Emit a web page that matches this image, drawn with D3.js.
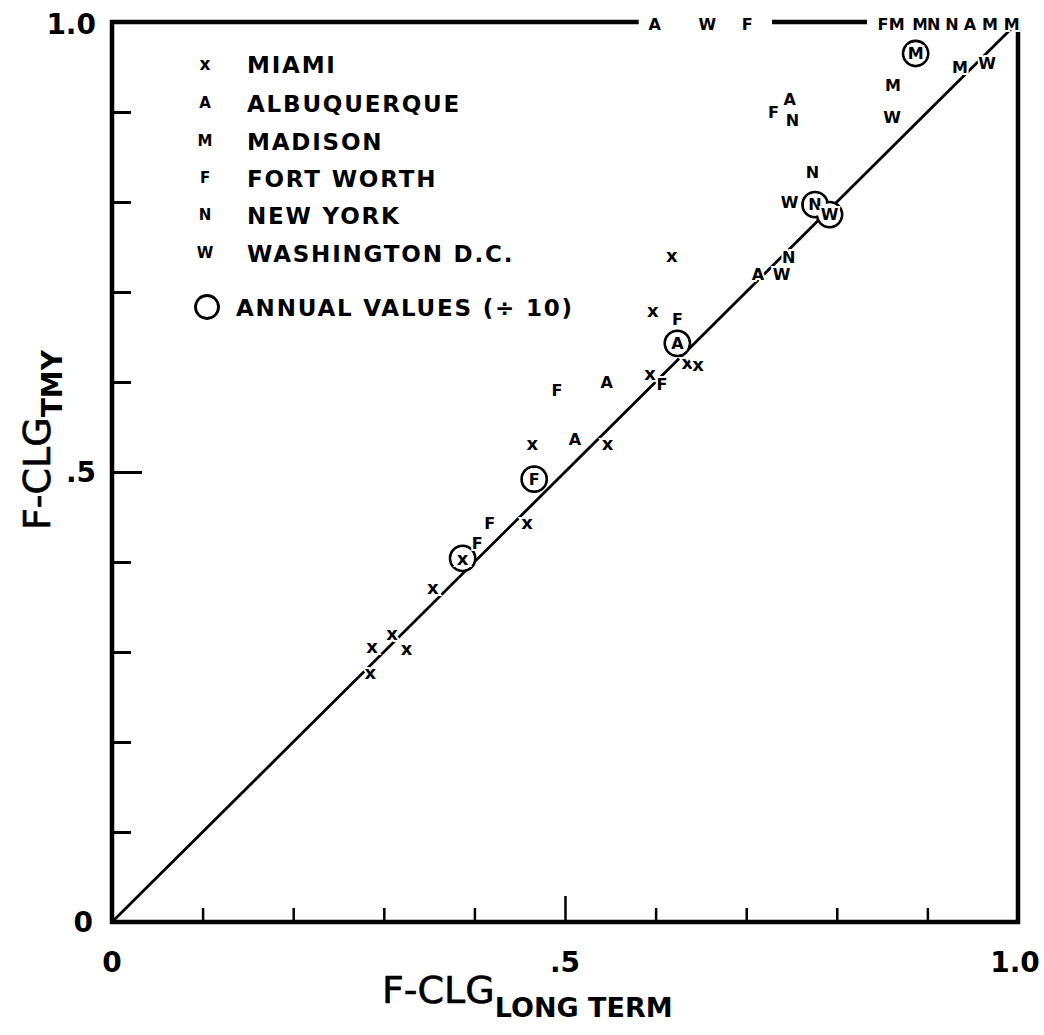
<!DOCTYPE html>
<meta charset="utf-8">
<style>
    body { margin: 0; background: #fff; }
    text { font-family: "DejaVu Sans", sans-serif; }
    .lbl { font-weight: bold; }
</style>
<body>
<svg id="chart"></svg>
<script src="https://cdn.jsdelivr.net/npm/d3@7"></script>
<script>
    // legend
    var cities = ["MIAMI", "ALBUQUERQUE", "MADISON", "FORT WORTH", "NEW YORK", "WASHINGTON  D.C."]
    var symbols = ["x", "A", "M", "F", "N", "W"]

    // monthly values [long term, tmy], one list per city
    var miami = [[0.285, 0.277], [0.287, 0.306], [0.309, 0.321], [0.325, 0.304], [0.354, 0.372],
                 [0.458, 0.444], [0.464, 0.532], [0.547, 0.532], [0.594, 0.610], [0.597, 0.680],
                 [0.618, 0.741], [0.635, 0.622], [0.647, 0.620]]
    var albuquerque = [[0.511, 0.536], [0.546, 0.599], [0.713, 0.719], [0.748, 0.914]]
    var madison = [[0.862, 0.930], [0.936, 0.950]]
    var fortWorth = [[0.403, 0.421], [0.417, 0.443], [0.491, 0.591], [0.607, 0.597],
                     [0.624, 0.669], [0.730, 0.900]]
    var newYork = [[0.747, 0.738], [0.751, 0.891], [0.773, 0.833]]
    var washington = [[0.739, 0.720], [0.748, 0.800], [0.861, 0.894], [0.966, 0.954]]

    // annual values (divided by 10)
    var annualSym = ["x", "F", "A", "N", "W", "M"]
    var annualX = [0.387, 0.466, 0.624, 0.776, 0.792, 0.887]
    var annualY = [0.404, 0.492, 0.643, 0.797, 0.786, 0.965]

    // values above 1.0, printed on the top border
    var offSym = ["A", "W", "F", "F", "M", "M", "N", "N", "A", "M", "M"]
    var offX = [0.599, 0.657, 0.701, 0.851, 0.866, 0.892, 0.907, 0.927, 0.947, 0.969, 0.993]

    var xTicks = [0, 0.5, 1], xTickLabels = ["0", ".5", "1.0"]
    var yTicks = [0, 0.5, 1], yTickLabels = ["0", ".5", "1.0"]

    var width = 1044, height = 1035

    var svg = d3.select("#chart")
        .attr("width", width)
        .attr("height", height)

    var x = d3.scaleLinear().domain([0, 1]).range([112, 1018])
    var y = d3.scaleLinear().domain([0, 1]).range([922, 22])

    var minor = d3.range(1, 10).map(function(i) { return i / 10 })

    // ticks (inward)
    svg.append("g")
        .attr("transform", "translate(0," + y(0) + ")")
        .call(d3.axisBottom(x).tickValues(minor).tickSize(0).tickFormat(""))
        .call(function(g) { g.select(".domain").remove() })
        .selectAll(".tick line")
        .attr("y2", function(d) { return d === 0.5 ? -26 : -14 })
        .attr("stroke", "#000").attr("stroke-width", 2.5)

    svg.append("g")
        .attr("transform", "translate(" + x(0) + ",0)")
        .call(d3.axisLeft(y).tickValues(minor).tickSize(0).tickFormat(""))
        .call(function(g) { g.select(".domain").remove() })
        .selectAll(".tick line")
        .attr("x2", function(d) { return d === 0.5 ? 30 : 19 })
        .attr("stroke", "#000").attr("stroke-width", 3)

    // frame
    svg.append("path")
        .attr("d", "M" + x(0) + "," + y(1) + "L" + x(0) + "," + y(0) + "L" + x(1) + "," + y(0) +
                   "L" + x(1) + "," + y(1) + "Z")
        .attr("fill", "none").attr("stroke", "#000").attr("stroke-width", 4.5)
        .attr("stroke-linejoin", "miter")

    // gaps in the top border where the off-scale letters sit
    var px = offX.map(x).sort(d3.ascending)
    var clusters = []
    px.forEach(function(p) {
        var c = clusters[clusters.length - 1]
        if (c && p - c[1] < 70) c[1] = p
        else clusters.push([p, p])
    })
    svg.append("g").selectAll("rect")
        .data(clusters)
        .enter().append("rect")
        .attr("x", function(c) { return c[0] - 16 })
        .attr("width", function(c) { return c[1] - c[0] + 41 })
        .attr("y", y(1) - 14)
        .attr("height", 20)
        .attr("fill", "#fff")

    // 1:1 line
    svg.append("line")
        .attr("x1", x(0)).attr("y1", y(0))
        .attr("x2", x(1)).attr("y2", y(1))
        .attr("stroke", "#000").attr("stroke-width", 2.8)

    // collect plotted letters
    var sets = [miami, albuquerque, madison, fortWorth, newYork, washington]
    var pts = []
    sets.forEach(function(s, i) {
        s.forEach(function(d) { pts.push({ s: symbols[i], x: d[0], y: d[1] }) })
    })
    offSym.forEach(function(s, i) { pts.push({ s: s, x: offX[i], y: 1, top: true }) })
    var ann = annualSym.map(function(s, i) { return { s: s, x: annualX[i], y: annualY[i] } })

    function sym(sel) {
        sel.attr("x", function(d) { return x(d.x) })
            .attr("y", function(d) { return y(d.y) + (d.top ? 2 : 0) })
            .attr("text-anchor", "middle")
            .attr("dominant-baseline", "central")
            .attr("class", "lbl")
            .attr("font-size", function(d) { return d.top ? 16 : (d.s === "x" ? 18 : 16) })
            .text(function(d) { return d.s })
    }

    // annual circles, merged outlines
    svg.append("g").selectAll("circle")
        .data(ann)
        .enter().append("circle")
        .attr("cx", function(d) { return x(d.x) })
        .attr("cy", function(d) { return y(d.y) })
        .attr("r", 12.5)
        .attr("fill", "#fff").attr("stroke", "#000").attr("stroke-width", 2.8)
    svg.append("g").selectAll("circle")
        .data(ann)
        .enter().append("circle")
        .attr("cx", function(d) { return x(d.x) })
        .attr("cy", function(d) { return y(d.y) })
        .attr("r", 11.1)
        .attr("fill", "#fff")

    // letters; the white halo breaks the line behind them
    svg.append("g").selectAll("text")
        .data(pts.concat(ann))
        .enter().append("text")
        .call(sym)
        .attr("fill", "#000")
        .attr("stroke", "#fff").attr("stroke-width", 4)
        .attr("paint-order", "stroke")

    // tick labels
    svg.append("g").selectAll("text")
        .data(xTicks)
        .enter().append("text")
        .attr("x", function(d, i) { return x(d) + (i === 2 ? -3 : 0) })
        .attr("y", 972)
        .attr("text-anchor", "middle")
        .attr("font-family", "Liberation Sans, sans-serif")
        .attr("font-weight", "bold")
        .attr("font-size", 28)
        .text(function(d, i) { return xTickLabels[i] })

    svg.append("g").selectAll("text")
        .data(yTicks)
        .enter().append("text")
        .attr("x", function(d, i) { return i === 0 ? 93 : 96 })
        .attr("y", function(d, i) { return y(d) + (i === 2 ? 12 : 10) })
        .attr("text-anchor", "end")
        .attr("font-family", "Liberation Sans, sans-serif")
        .attr("font-weight", "bold")
        .attr("font-size", 28)
        .text(function(d, i) { return yTickLabels[i] })

    // axis titles
    var xt = svg.append("text")
        .attr("x", 382).attr("y", 1003)
        .attr("font-size", 38)
        .attr("stroke", "#000").attr("stroke-width", 0.6)
    xt.append("tspan").text("F-CLG")
    xt.append("tspan").attr("dy", 14).attr("font-size", 27).attr("font-weight", "bold")
        .attr("stroke-width", 0).text("LONG TERM")

    var yt = svg.append("text")
        .attr("transform", "translate(50,530) rotate(-90)")
        .attr("font-size", 38)
        .attr("stroke", "#000").attr("stroke-width", 0.6)
    yt.append("tspan").text("F-CLG")
    yt.append("tspan").attr("dy", 12).attr("font-size", 28).attr("font-weight", "bold")
        .attr("stroke-width", 0).text("TMY")

    // legend
    var leg = svg.append("g")
    var rowY = [64, 103, 141, 178, 215, 253]
    cities.forEach(function(c, i) {
        leg.append("text")
            .attr("x", 205).attr("y", rowY[i])
            .attr("text-anchor", "middle").attr("dominant-baseline", "central")
            .attr("class", "lbl").attr("font-size", i === 0 ? 17 : 15)
            .text(symbols[i])
        leg.append("text")
            .attr("x", 247).attr("y", rowY[i] + 9)
            .attr("class", "lbl").attr("font-size", 23)
            .attr("letter-spacing", 1.8)
            .text(c)
    })
    leg.append("circle")
        .attr("cx", 207).attr("cy", 307).attr("r", 11.5)
        .attr("fill", "none").attr("stroke", "#000").attr("stroke-width", 2.8)
    leg.append("text")
        .attr("x", 236).attr("y", 316)
        .attr("class", "lbl").attr("font-size", 23)
        .attr("letter-spacing", 1.8)
        .text("ANNUAL VALUES (\u00f7 10)")
</script>
</body>
